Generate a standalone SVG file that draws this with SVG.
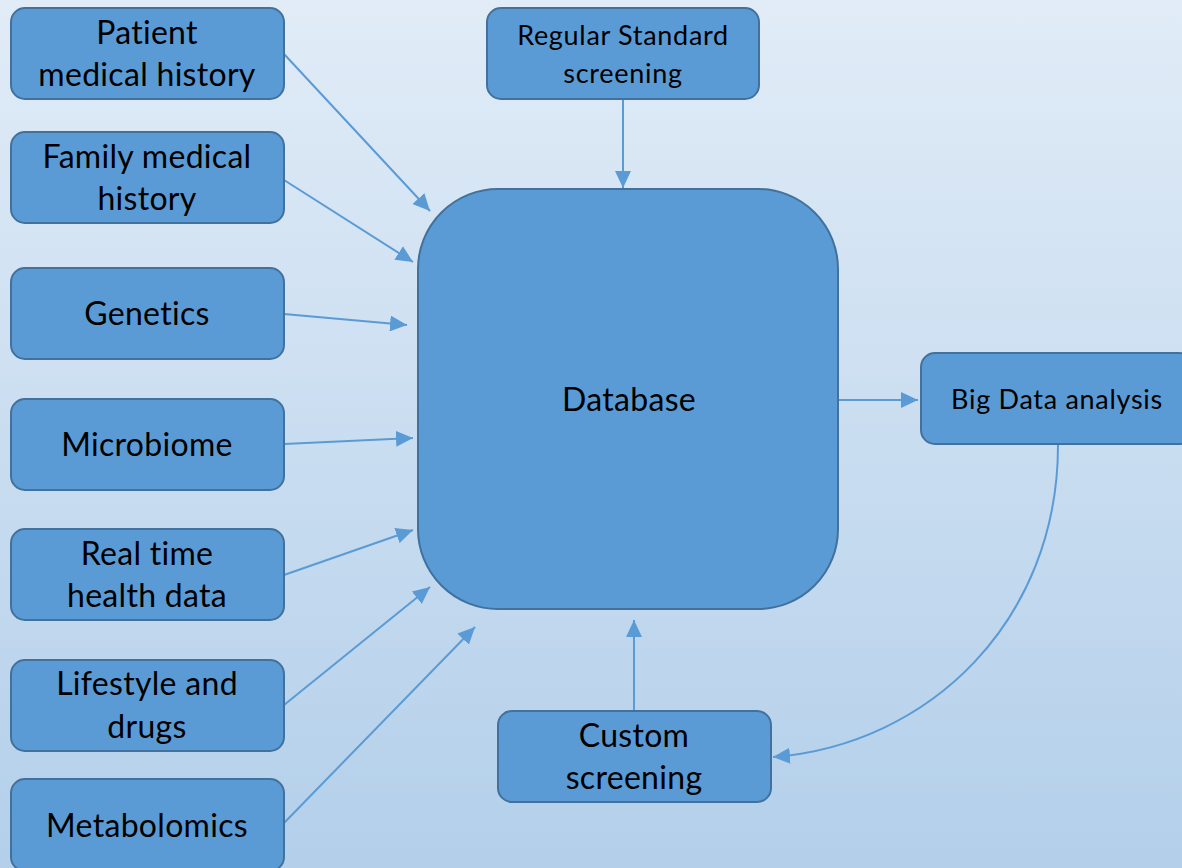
<svg xmlns="http://www.w3.org/2000/svg" width="1182" height="868" viewBox="0 0 1182 868">
<defs>
<linearGradient id="bg" x1="0" y1="0" x2="0" y2="1">
<stop offset="0" stop-color="#e1ecf7"/>
<stop offset="1" stop-color="#b3cfea"/>
</linearGradient>
<marker id="ah" markerUnits="userSpaceOnUse" markerWidth="18" markerHeight="16" viewBox="0 0 18 16" refX="17" refY="8" orient="auto">
<path d="M0,0 L17,8 L0,16 Z" fill="#5b9bd5"/>
</marker>
<style>
.box{fill:#5b9bd5;stroke:#41719c;stroke-width:2}
.t{font-family:Lato,"Open Sans","Liberation Sans",sans-serif;fill:#000;text-anchor:middle}
.l{font-size:32px;letter-spacing:0.3px}
.s{font-size:27px;letter-spacing:0.7px}
.c{fill:none;stroke:#5b9bd5;stroke-width:2}
</style>
</defs>
<rect x="0" y="0" width="1182" height="868" fill="url(#bg)"/>
<g id="connectors">
<path class="c" d="M284,54 L430,211" marker-end="url(#ah)"/>
<path class="c" d="M284,180 L413,262" marker-end="url(#ah)"/>
<path class="c" d="M284,314 L407,325" marker-end="url(#ah)"/>
<path class="c" d="M284,444 L413,438" marker-end="url(#ah)"/>
<path class="c" d="M284,575 L413,530" marker-end="url(#ah)"/>
<path class="c" d="M284,705 L430,587" marker-end="url(#ah)"/>
<path class="c" d="M284,823 L475,627" marker-end="url(#ah)"/>
<path class="c" d="M623,99 L623,188" marker-end="url(#ah)"/>
<path class="c" d="M838,400 L918,400" marker-end="url(#ah)"/>
<path class="c" d="M634,711 L634,620" marker-end="url(#ah)"/>
<path class="c" d="M1058,445 C1058,620 930,745 773,757" marker-end="url(#ah)"/>
</g>
<g id="n-patient"><rect class="box" x="11" y="8" width="273" height="91" rx="14"/><text class="t l" x="147" y="44">Patient</text><text class="t l" x="147" y="86">medical history</text></g>
<g id="n-family"><rect class="box" x="11" y="132" width="273" height="91" rx="14"/><text class="t l" x="147" y="168">Family medical</text><text class="t l" x="147" y="210">history</text></g>
<g id="n-genetics"><rect class="box" x="11" y="268" width="273" height="91" rx="14"/><text class="t l" x="147" y="325">Genetics</text></g>
<g id="n-microbiome"><rect class="box" x="11" y="399" width="273" height="91" rx="14"/><text class="t l" x="147" y="456">Microbiome</text></g>
<g id="n-realtime"><rect class="box" x="11" y="529" width="273" height="91" rx="14"/><text class="t l" x="147" y="565">Real time</text><text class="t l" x="147" y="607">health data</text></g>
<g id="n-lifestyle"><rect class="box" x="11" y="660" width="273" height="91" rx="14"/><text class="t l" x="147" y="695">Lifestyle and</text><text class="t l" x="147" y="738">drugs</text></g>
<g id="n-metabolomics"><rect class="box" x="11" y="779" width="273" height="92" rx="14"/><text class="t l" x="147" y="837">Metabolomics</text></g>
<g id="n-regular"><rect class="box" x="487" y="8" width="272" height="91" rx="14"/><text class="t s" x="623" y="45">Regular Standard</text><text class="t s" x="623" y="83">screening</text></g>
<g id="n-database"><rect class="box" x="418" y="189" width="420" height="420" rx="80"/><text class="t l" x="629" y="411">Database</text></g>
<g id="n-bigdata"><rect class="box" x="921" y="353" width="272" height="91" rx="14"/><text class="t s" x="1057" y="409">Big Data analysis</text></g>
<g id="n-custom"><rect class="box" x="498" y="711" width="273" height="91" rx="14"/><text class="t l" x="634" y="747">Custom</text><text class="t l" x="634" y="789">screening</text></g>
</svg>
